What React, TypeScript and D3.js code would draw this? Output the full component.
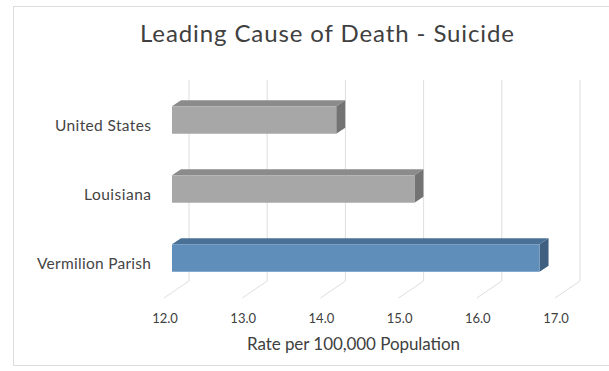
import React from "react";
import * as d3 from "d3";

const categories = ["United States", "Louisiana", "Vermilion Parish"];
const rates = [14.1, 15.1, 16.7];
const highlight = [false, false, true];
const tickValues = [12, 13, 14, 15, 16, 17];
const title = "Leading Cause of Death - Suicide";
const axisTitle = "Rate per 100,000 Population";

const W = 609;
const H = 371;
const FONT = "Lato, 'Open Sans', sans-serif";

// Oblique 3-D projection: t = 0 is the front of the floor, t = 1 the back wall.
const depth = { dx: 25, dy: -17 };
const barFront = 0.32;
const barBack = 0.68;

const x = d3.scaleLinear().domain([12, 17]).range([164, 555]);
const y = d3
  .scaleBand<string>()
  .domain(categories)
  .range([91, 298])
  .paddingInner(0.6)
  .paddingOuter(0.3);

const wallTop = 80;
const floorFront = 298;

function P(px: number, py: number, t: number): [number, number] {
  return [px + depth.dx * t, py + depth.dy * t];
}

function poly(pts: [number, number][]) {
  return pts.map((p) => p.join(",")).join(" ");
}

const grey = { front: "#a7a7a7", top: "#8b8b8b", side: "#737373" };
const blue = { front: "#5f8ebb", top: "#4a7096", side: "#3e5f80" };

// rough label widths used to spread the text
const labelWidth: Record<string, number> = {
  "United States": 96,
  Louisiana: 67,
  "Vermilion Parish": 114,
};

export default function App() {
  return (
    <svg width={W} height={H} style={{ display: "block", position: "absolute", left: 0, top: 0 }}>
      <rect x={0} y={0} width={W} height={H} fill="#ffffff" />
      <rect x={13.5} y={6.5} width={W} height={359} fill="#ffffff" stroke="#dcdcdc" />

      <text
        x={140}
        y={41.5}
        fontFamily={FONT}
        fontSize={24}
        fill="#404040"
        textLength={374}
        lengthAdjust="spacing"
      >
        {title}
      </text>

      {/* back-wall gridlines and their floor diagonals */}
      {tickValues.map((v) => {
        const [bx, by] = P(x(v), floorFront, 1);
        return (
          <g key={v} stroke="#dedede" strokeWidth={1}>
            <line x1={bx} x2={bx} y1={wallTop} y2={by} />
            <line x1={bx} y1={by} x2={x(v)} y2={floorFront} />
          </g>
        );
      })}

      {/* 3-D bars */}
      {categories.map((c, i) => {
        const c0 = highlight[i] ? blue : grey;
        const y0 = y(c)!;
        const y1 = y0 + y.bandwidth();
        const x0 = x(12);
        const x1 = x(rates[i]);
        const fTL = P(x0, y0, barFront);
        const fTR = P(x1, y0, barFront);
        const fBR = P(x1, y1, barFront);
        const fBL = P(x0, y1, barFront);
        const bTL = P(x0, y0, barBack);
        const bTR = P(x1, y0, barBack);
        const bBR = P(x1, y1, barBack);
        return (
          <g key={c}>
            <polygon points={poly([fTL, fTR, bTR, bTL])} fill={c0.top} />
            <polygon points={poly([fTR, bTR, bBR, fBR])} fill={c0.side} />
            <polygon points={poly([fTL, fTR, fBR, fBL])} fill={c0.front} />
          </g>
        );
      })}

      {/* category labels */}
      {categories.map((c) => (
        <text
          key={c}
          x={151 - labelWidth[c]}
          y={y(c)! + y.bandwidth() / 2 + 2}
          dominantBaseline="middle"
          fontFamily={FONT}
          fontSize={15.5}
          fill="#444444"
          textLength={labelWidth[c]}
          lengthAdjust="spacing"
        >
          {c}
        </text>
      ))}

      {/* value axis tick labels */}
      {tickValues.map((v) => (
        <text
          key={v}
          x={x(v) + 1}
          y={320}
          textAnchor="middle"
          dominantBaseline="middle"
          fontFamily={FONT}
          fontSize={13}
          fill="#404040"
        >
          {d3.format(".1f")(v)}
        </text>
      ))}

      <text
        x={247}
        y={346}
        dominantBaseline="middle"
        fontFamily={FONT}
        fontSize={17}
        fill="#404040"
        textLength={213}
        lengthAdjust="spacing"
      >
        {axisTitle}
      </text>
    </svg>
  );
}
